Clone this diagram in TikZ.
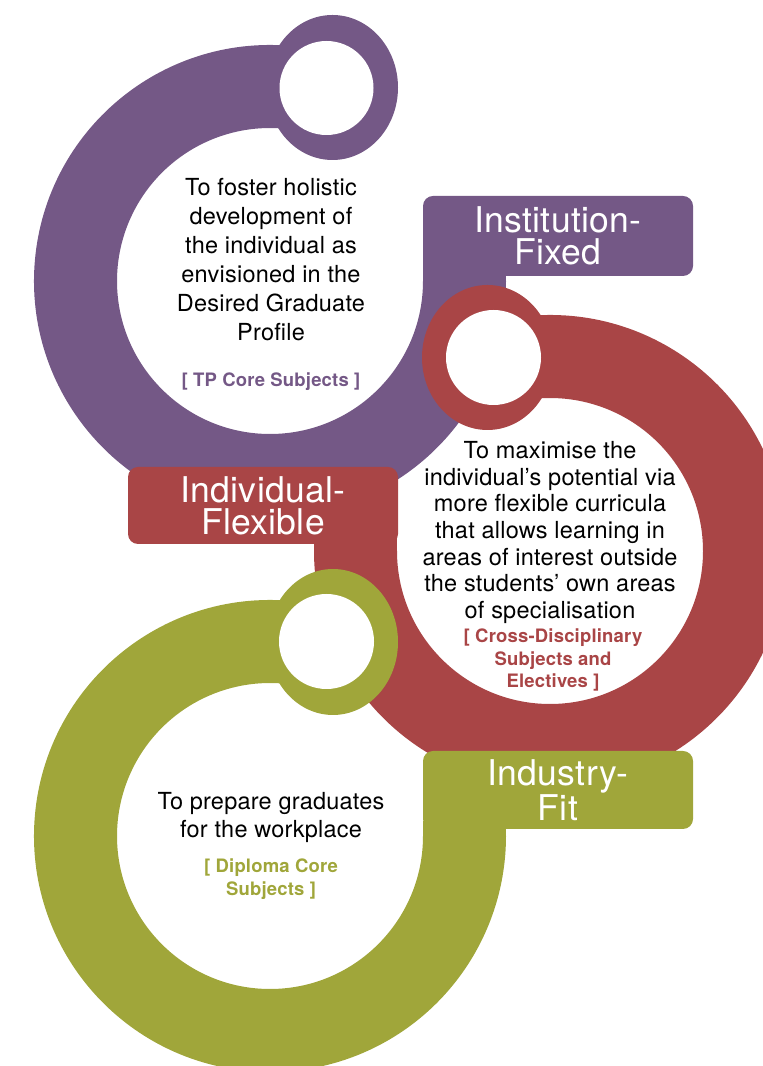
\documentclass[tikz,border=0pt]{standalone}
\usepackage{fontspec}
\setmainfont{TeX Gyre Heros}[LetterSpace=1]
\usetikzlibrary{calc}

\definecolor{tpPurple}{HTML}{745886}
\definecolor{tpRed}{HTML}{A94546}
\definecolor{tpGreen}{HTML}{A0A63A}

\tikzset{
    boxlabel/.style={rounded corners=10pt, minimum width=270pt, text=white, align=center,
        inner sep=0pt, font=\fontsize{35.5}{32}\selectfont},
    bodytext/.style={align=center, inner sep=0pt, anchor=north, font=\fontsize{23.5}{29}\selectfont},
    subjtext/.style={align=center, inner sep=0pt, font=\bfseries\fontsize{18.5}{23}\selectfont}
}

\begin{document}
\begin{tikzpicture}[x=1pt,y=1pt]
    \useasboundingbox (0,0) rectangle (763,1066);
    \coordinate (P) at (270,785);
    \coordinate (R) at (550,515);
    \coordinate (G) at (270,230);

    % purple ring
    \fill [tpPurple] ($(P)+(85:236)$) arc [start angle=85, end angle=360, radius=236]
        -- ++(-83,0) arc [start angle=360, end angle=85, radius=153] -- cycle;
    \fill [tpPurple] ($(P)+(153,0)$) rectangle ($(P)+(236,15)$);
    \fill [tpPurple] ($(P)+(62.5,193.5)$) ellipse [x radius=65.5, y radius=72.5];
    \fill [white] ($(P)+(56.5,193)$) circle [radius=47];
    \node [boxlabel, fill=tpPurple, minimum height=80pt] (inst) at (558,830) {Institution-\\Fixed};

    % red ring
    \fill [tpRed] ($(R)+(95:236)$) arc [start angle=95, end angle=-180, radius=236]
        -- ++(83,0) arc [start angle=-180, end angle=95, radius=153] -- cycle;
    \fill [tpRed] ($(R)+(-236,0)$) rectangle ($(R)+(-153,15)$);
    \fill [tpRed] ($(R)+(-62.5,193.5)$) ellipse [x radius=65.5, y radius=72.5];
    \fill [white] ($(R)+(-56.5,193.5)$) circle [radius=47.5];
    \node [boxlabel, fill=tpRed, minimum height=77pt] (indiv) at (263,560.5) {Individual-\\Flexible};

    % green ring
    \fill [tpGreen] ($(G)+(85:236)$) arc [start angle=85, end angle=360, radius=236]
        -- ++(-83,0) arc [start angle=360, end angle=85, radius=153] -- cycle;
    \fill [tpGreen] ($(G)+(153,0)$) rectangle ($(G)+(236,15)$);
    \fill [tpGreen] ($(G)+(63,194)$) ellipse [x radius=65, y radius=73];
    \fill [white] ($(G)+(56.5,194.5)$) circle [radius=47.5];
    \node [boxlabel, fill=tpGreen, minimum height=78pt] (indus) at (558,276) {Industry-\\Fit};

    \node [bodytext] (purpletxt) at (271,888) {To foster holistic\\development of\\the individual as\\envisioned in the\\Desired Graduate\\Profile};
    \node [subjtext, text=tpPurple, anchor=base] (purplesubj) at (271,679) {[ TP Core Subjects ]};

    \node [bodytext, font=\fontsize{23.5}{26.7}\selectfont] (redtxt) at (550,625) {To maximise the\\individual’s potential via\\more flexible curricula\\that allows learning in\\areas of interest outside\\the students’ own areas\\of specialisation};
    \node [subjtext, text=tpRed, anchor=north, font=\bfseries\fontsize{18.5}{22.5}\selectfont] (redsubj) at (553,437) {[ Cross-Disciplinary\\Subjects and\\Electives ]};

    \node [bodytext, font=\fontsize{23.5}{28}\selectfont] (greentxt) at (271,274) {To prepare graduates\\for the workplace};
    \node [subjtext, text=tpGreen, anchor=north] (greensubj) at (271,207) {[ Diploma Core\\Subjects ]};
\end{tikzpicture}
\end{document}
